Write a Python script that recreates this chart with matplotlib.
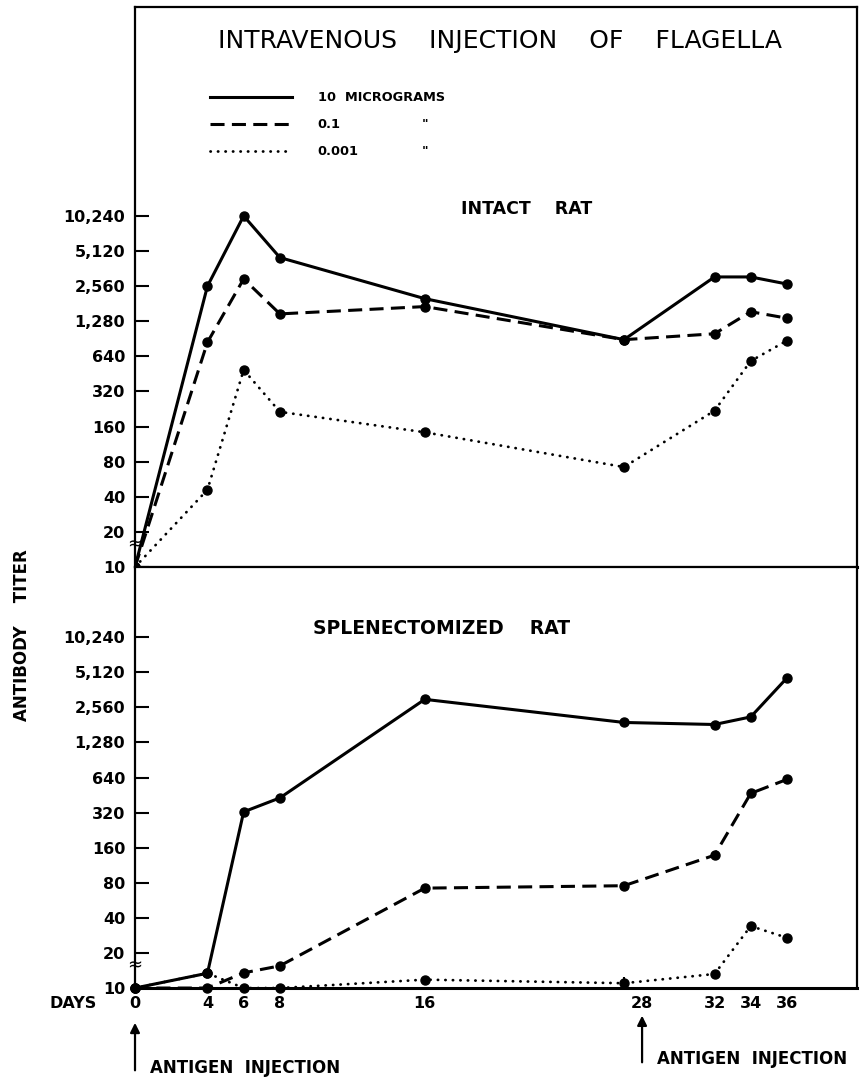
import matplotlib
matplotlib.use("Agg")
import matplotlib.pyplot as plt
from matplotlib.ticker import FixedLocator, FixedFormatter, NullLocator
from matplotlib.transforms import blended_transform_factory

# sampling days (the pre-boost bleed sits just before day 28)
days = [0, 4, 6, 8, 16, 27, 32, 34, 36]
day_ticks = [0, 4, 6, 8, 16, 28, 32, 34, 36]
injection_days = [0, 28]

titer_ticks = [10, 20, 40, 80, 160, 320, 640, 1280, 2560, 5120, 10240]
titer_labels = ["10", "20", "40", "80", "160", "320", "640",
                "1,280", "2,560", "5,120", "10,240"]

doses = ["10  MICROGRAMS", "0.1", "0.001"]

# antibody titers, intact rat
intact_10 = [10, 2560, 10240, 4500, 2000, 890, 3070, 3070, 2670]
intact_01 = [10, 845, 2950, 1480, 1710, 890, 1000, 1545, 1360]
intact_0001 = [10, 46, 490, 214, 143, 72, 219, 584, 873]

# antibody titers, splenectomized rat
splen_10 = [10, 13.4, 325, 428, 3000, 1900, 1825, 2120, 4580]
splen_01 = [10, 10, 13.5, 15.5, 72, 75.5, 138, 468, 617]
splen_0001 = [10, 13.4, 10, 10, 11.8, 11, 13.2, 34, 27]

plt.rcParams["font.family"] = ["DejaVu Sans"]

styles = [
    dict(linestyle="-", linewidth=2.2),
    dict(linestyle=(0, (4.6, 2.4)), linewidth=2.2),
    dict(linestyle=(0, (0.1, 2.6)), linewidth=2.0, dash_capstyle="round"),
]

fig = plt.figure(figsize=(8.61, 10.77), dpi=100)
ax_top = fig.add_axes([0.1568, 0.4735, 0.8386, 0.52])
ax_bot = fig.add_axes([0.1568, 0.0826, 0.8386, 0.3909])


def setup_panel(ax, top_doublings):
    ax.set_yscale("log", base=2)
    ax.set_xlim(0, 39.87)
    ax.set_ylim(10, 10 * 2 ** top_doublings)
    ax.yaxis.set_major_locator(FixedLocator(titer_ticks))
    ax.yaxis.set_major_formatter(FixedFormatter(titer_labels))
    ax.yaxis.set_minor_locator(NullLocator())
    ax.tick_params(axis="y", direction="in", length=10, width=1.5,
                   pad=7, labelsize=11.5)
    for lbl in ax.get_yticklabels():
        lbl.set_fontweight("bold")
    for side in ["left", "right", "top", "bottom"]:
        ax.spines[side].set_linewidth(1.6)
    ax.spines["bottom"].set_linewidth(2.2)
    # axis break between 10 and 20
    trans = blended_transform_factory(ax.transAxes, ax.transData)
    ax.text(0, 15.5, "≈", transform=trans, ha="center", va="center",
            fontsize=13, clip_on=False)


setup_panel(ax_top, 15.95)
setup_panel(ax_bot, 12.0)

for series, st in zip([intact_10, intact_01, intact_0001], styles):
    ax_top.plot(days, series, color="black", marker="o", markersize=6.5, **st)
for series, st in zip([splen_10, splen_01, splen_0001], styles):
    ax_bot.plot(days, series, color="black", marker="o", markersize=6.5,
                clip_on=False, **st)

# top panel: no day axis
ax_top.set_xticks([])

# bottom panel: day labels plus small ticks at each bleed
ax_bot.set_xticks(day_ticks)
ax_bot.set_xticklabels([str(d) for d in day_ticks], fontweight="bold")
ax_bot.tick_params(axis="x", which="major", length=0, pad=6, labelsize=11.5)
ax_bot.set_xticks(days[1:], minor=True)
ax_bot.tick_params(axis="x", which="minor", direction="in", length=8, width=1.5)

ax_bot.text(-0.053, -0.036, "DAYS", transform=ax_bot.transAxes, ha="right",
            va="center", fontsize=11.5, fontweight="bold")

# titles and panel labels
ax_top.text(0.505, 0.939, "INTRAVENOUS    INJECTION    OF    FLAGELLA",
            transform=ax_top.transAxes, ha="center", va="center", fontsize=18)
ax_top.text(0.543, 0.639, "INTACT    RAT", transform=ax_top.transAxes,
            ha="center", va="center", fontsize=12.5, fontweight="bold")
ax_bot.text(0.424, 0.853, "SPLENECTOMIZED    RAT", transform=ax_bot.transAxes,
            ha="center", va="center", fontsize=13.5, fontweight="bold")

# dose key
key_y = [0.839, 0.791, 0.742]
for name, st, y in zip(doses, styles, key_y):
    ax_top.plot([0.104, 0.217], [y, y], transform=ax_top.transAxes,
                color="black", **st)
    ax_top.text(0.253, y, name, transform=ax_top.transAxes, ha="left",
                va="center", fontsize=9.3, fontweight="bold")
    if name != doses[0]:
        ax_top.text(0.402, y, "\"", transform=ax_top.transAxes, ha="center",
                    va="center", fontsize=9, fontweight="bold")

fig.text(0.0256, 0.41, "ANTIBODY    TITER", rotation=90, ha="center",
         va="center", fontsize=12, fontweight="bold")

# antigen injection arrows
trans = blended_transform_factory(ax_bot.transData, ax_bot.transAxes)
arrow_ends = [(-0.202, -0.076), (-0.183, -0.059)]
text_pos = [(0.85, -0.19), (28.8, -0.168)]
for d, (y0, y1), (tx, ty) in zip(injection_days, arrow_ends, text_pos):
    ax_bot.annotate("", xy=(d, y1), xytext=(d, y0), xycoords=trans,
                    textcoords=trans, annotation_clip=False,
                    arrowprops=dict(arrowstyle="-|>", color="black", lw=1.6,
                                    mutation_scale=14))
    ax_bot.text(tx, ty, "ANTIGEN  INJECTION", transform=trans, ha="left",
                va="center", fontsize=12, fontweight="bold")

fig.savefig("out.png", dpi=100, facecolor="white")
